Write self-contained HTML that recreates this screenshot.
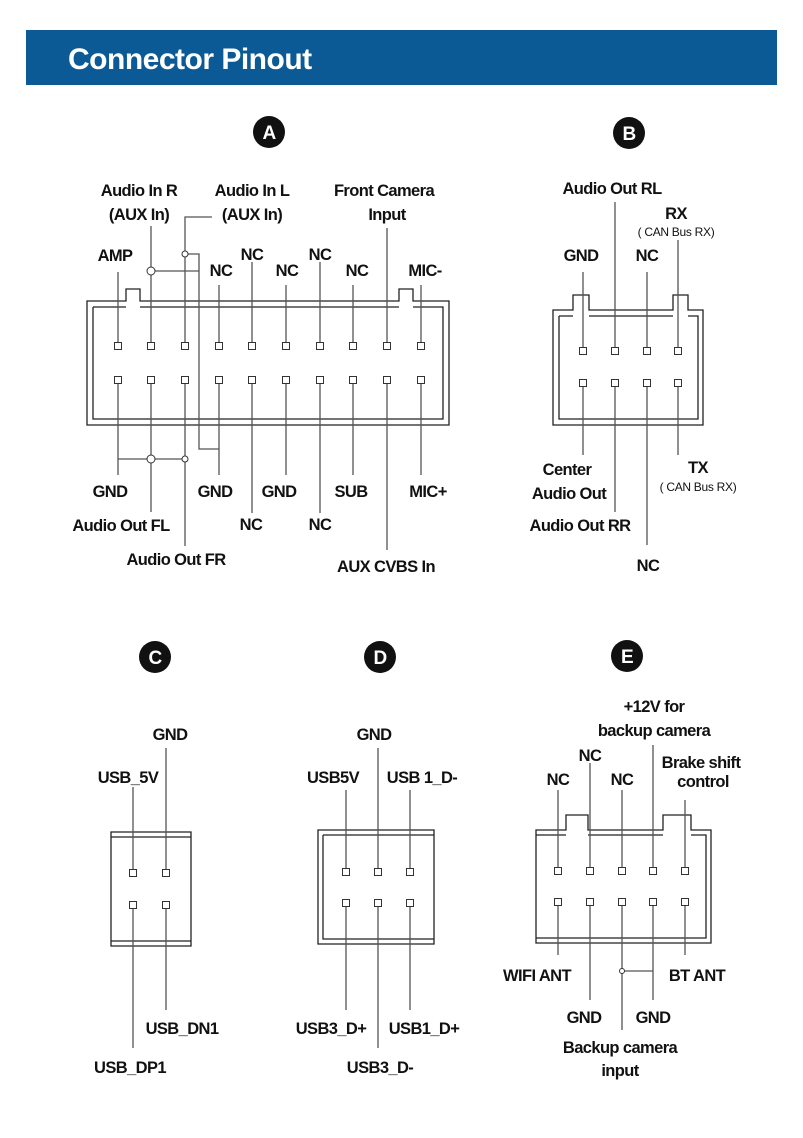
<!DOCTYPE html>
<html><head><meta charset="utf-8"><style>
html,body{margin:0;padding:0;background:#fff}
svg{display:block}
text{font-family:"Liberation Sans",sans-serif;font-weight:bold;font-size:16.5px;fill:#111;text-anchor:middle;letter-spacing:-0.6px}
.s{font-size:12px;font-weight:normal;letter-spacing:-0.3px}
.l{stroke:#555;stroke-width:1.3;fill:none}
.b{stroke:#222;stroke-width:1.3;fill:none}
.p{stroke:#333;stroke-width:1;fill:#fff}
</style></head><body>
<svg width="803" height="1138" viewBox="0 0 803 1138" xmlns="http://www.w3.org/2000/svg">
<rect x="26" y="30" width="751" height="55" fill="#0b5a95"/>
<text x="68" y="69" style="fill:#fff;font-size:30px;text-anchor:start;letter-spacing:-0.5px;font-weight:bold">Connector Pinout</text>

<g>
<circle cx="269" cy="132" r="16" fill="#111"/><text x="269" y="139" style="fill:#fff;font-size:19px">A</text>
<circle cx="629" cy="133" r="16" fill="#111"/><text x="629" y="140" style="fill:#fff;font-size:19px">B</text>
<circle cx="155" cy="657" r="16" fill="#111"/><text x="155" y="664" style="fill:#fff;font-size:19px">C</text>
<circle cx="380" cy="657" r="16" fill="#111"/><text x="380" y="664" style="fill:#fff;font-size:19px">D</text>
<circle cx="627" cy="656" r="16" fill="#111"/><text x="627" y="663" style="fill:#fff;font-size:19px">E</text>
</g>

<!-- Connector A -->
<path class="b" d="M87 301 H126 V289 H140 V301 H399 V289 H413 V301 H449 V425 H87 Z"/>
<path class="b" d="M93 307 H126 M140 307 H399 M413 307 H443 V419 H93 V307"/>
<g class="l">
<path d="M118 346 V272"/><path d="M151 346 V226"/><path d="M185 346 V217 H212"/>
<path d="M219 346 V285"/><path d="M252 346 V262"/><path d="M286 346 V285"/><path d="M320 346 V262"/><path d="M353 346 V285"/><path d="M387 346 V228"/><path d="M421 346 V285"/>
<path d="M151 271 H199"/><path d="M185 254 H199 V449 H219"/>
<path d="M118 380 V475"/><path d="M118 459 H185"/><path d="M151 380 V512"/><path d="M185 380 V546"/>
<path d="M219 380 V475"/><path d="M252 380 V513"/><path d="M286 380 V475"/><path d="M320 380 V513"/><path d="M353 380 V475"/><path d="M387 380 V550"/><path d="M421 380 V475"/>
</g>
<circle cx="151" cy="271" r="4" class="p"/><circle cx="185" cy="254" r="3" class="p"/>
<circle cx="151" cy="459" r="4" class="p"/><circle cx="185" cy="459" r="3" class="p"/>
<g class="p">
<rect x="114.5" y="342.5" width="7" height="7"/><rect x="147.5" y="342.5" width="7" height="7"/><rect x="181.5" y="342.5" width="7" height="7"/><rect x="215.5" y="342.5" width="7" height="7"/><rect x="248.5" y="342.5" width="7" height="7"/><rect x="282.5" y="342.5" width="7" height="7"/><rect x="316.5" y="342.5" width="7" height="7"/><rect x="349.5" y="342.5" width="7" height="7"/><rect x="383.5" y="342.5" width="7" height="7"/><rect x="417.5" y="342.5" width="7" height="7"/>
<rect x="114.5" y="376.5" width="7" height="7"/><rect x="147.5" y="376.5" width="7" height="7"/><rect x="181.5" y="376.5" width="7" height="7"/><rect x="215.5" y="376.5" width="7" height="7"/><rect x="248.5" y="376.5" width="7" height="7"/><rect x="282.5" y="376.5" width="7" height="7"/><rect x="316.5" y="376.5" width="7" height="7"/><rect x="349.5" y="376.5" width="7" height="7"/><rect x="383.5" y="376.5" width="7" height="7"/><rect x="417.5" y="376.5" width="7" height="7"/>
</g>
<text x="115" y="261">AMP</text>
<text x="139" y="196">Audio In R</text><text x="139" y="220">(AUX In)</text>
<text x="252" y="196">Audio In L</text><text x="252" y="220">(AUX In)</text>
<text x="384" y="196">Front Camera</text><text x="387" y="220">Input</text>
<text x="221" y="276">NC</text><text x="252" y="260">NC</text><text x="287" y="276">NC</text><text x="320" y="260">NC</text><text x="357" y="276">NC</text><text x="425" y="276">MIC-</text>
<text x="110" y="497">GND</text><text x="121" y="531">Audio Out FL</text><text x="176" y="565">Audio Out FR</text>
<text x="215" y="497">GND</text><text x="251" y="530">NC</text><text x="279" y="497">GND</text><text x="320" y="530">NC</text><text x="351" y="497">SUB</text><text x="386" y="572">AUX CVBS In</text><text x="428" y="497">MIC+</text>

<!-- Connector B -->
<path class="b" d="M553 310 H573 V295 H589 V310 H673 V295 H688 V310 H703 V425 H553 Z"/>
<path class="b" d="M559 316 H573 M589 316 H673 M688 316 H698 V419 H559 V316"/>
<g class="l">
<path d="M583 351 V272"/><path d="M615 351 V202"/><path d="M647 351 V272"/><path d="M678 351 V240"/>
<path d="M583 383 V455"/><path d="M615 383 V512"/><path d="M647 383 V545"/><path d="M678 383 V455"/>
</g>
<g class="p">
<rect x="579.5" y="347.5" width="7" height="7"/><rect x="611.5" y="347.5" width="7" height="7"/><rect x="643.5" y="347.5" width="7" height="7"/><rect x="674.5" y="347.5" width="7" height="7"/>
<rect x="579.5" y="379.5" width="7" height="7"/><rect x="611.5" y="379.5" width="7" height="7"/><rect x="643.5" y="379.5" width="7" height="7"/><rect x="674.5" y="379.5" width="7" height="7"/>
</g>
<text x="612" y="194">Audio Out RL</text><text x="676" y="219">RX</text><text x="676" y="236" class="s">( CAN Bus RX)</text>
<text x="581" y="261">GND</text><text x="647" y="261">NC</text>
<text x="567" y="475">Center</text><text x="569" y="499">Audio Out</text><text x="580" y="531">Audio Out RR</text><text x="648" y="571">NC</text>
<text x="698" y="473">TX</text><text x="698" y="491" class="s">( CAN Bus RX)</text>

<!-- Connector C -->
<path class="b" d="M111 832 H191 V946 H111 Z M111 837 H191 M111 941 H191"/>
<g class="l"><path d="M133 873 V787"/><path d="M166 873 V748"/><path d="M133 905 V1048"/><path d="M166 905 V1010"/></g>
<g class="p"><rect x="129.5" y="869.5" width="7" height="7"/><rect x="162.5" y="869.5" width="7" height="7"/><rect x="129.5" y="901.5" width="7" height="7"/><rect x="162.5" y="901.5" width="7" height="7"/></g>
<text x="170" y="740">GND</text><text x="128" y="783">USB_5V</text><text x="182" y="1034">USB_DN1</text><text x="130" y="1073">USB_DP1</text>

<!-- Connector D -->
<path class="b" d="M318 830 H434 V944 H318 Z M323 835 H434 M323 835 V939 H434"/>
<g class="l"><path d="M346 872 V790"/><path d="M378 872 V748"/><path d="M410 872 V790"/><path d="M346 903 V1010"/><path d="M378 903 V1048"/><path d="M410 903 V1010"/></g>
<g class="p"><rect x="342.5" y="868.5" width="7" height="7"/><rect x="374.5" y="868.5" width="7" height="7"/><rect x="406.5" y="868.5" width="7" height="7"/><rect x="342.5" y="899.5" width="7" height="7"/><rect x="374.5" y="899.5" width="7" height="7"/><rect x="406.5" y="899.5" width="7" height="7"/></g>
<text x="374" y="740">GND</text><text x="333" y="783">USB5V</text><text x="422" y="783">USB 1_D-</text>
<text x="331" y="1034">USB3_D+</text><text x="424" y="1034">USB1_D+</text><text x="380" y="1073">USB3_D-</text>

<!-- Connector E -->
<path class="b" d="M536 830 H566 V815 H588 V830 H663 V815 H691 V830 H711 V943 H536 Z"/>
<path class="b" d="M536 835 H566 M588 835 H663 M691 835 H706 V938 H536"/>
<g class="l">
<path d="M558 871 V790"/><path d="M590 871 V763"/><path d="M622 871 V790"/><path d="M653 871 V745"/><path d="M685 871 V800"/>
<path d="M558 902 V955"/><path d="M590 902 V1000"/><path d="M622 902 V1030"/><path d="M653 902 V1000"/><path d="M685 902 V955"/>
<path d="M622 971 H653"/>
</g>
<circle cx="622" cy="971" r="2.5" class="p"/>
<g class="p">
<rect x="554.5" y="867.5" width="7" height="7"/><rect x="586.5" y="867.5" width="7" height="7"/><rect x="618.5" y="867.5" width="7" height="7"/><rect x="649.5" y="867.5" width="7" height="7"/><rect x="681.5" y="867.5" width="7" height="7"/>
<rect x="554.5" y="898.5" width="7" height="7"/><rect x="586.5" y="898.5" width="7" height="7"/><rect x="618.5" y="898.5" width="7" height="7"/><rect x="649.5" y="898.5" width="7" height="7"/><rect x="681.5" y="898.5" width="7" height="7"/>
</g>
<text x="654" y="712">+12V for</text><text x="654" y="736">backup camera</text>
<text x="590" y="761">NC</text><text x="558" y="785">NC</text><text x="622" y="785">NC</text>
<text x="701" y="768">Brake shift</text><text x="703" y="787">control</text>
<text x="537" y="981">WIFI ANT</text><text x="697" y="981">BT ANT</text>
<text x="584" y="1023">GND</text><text x="653" y="1023">GND</text>
<text x="620" y="1053">Backup camera</text><text x="620" y="1076">input</text>
</svg>
</body></html>
